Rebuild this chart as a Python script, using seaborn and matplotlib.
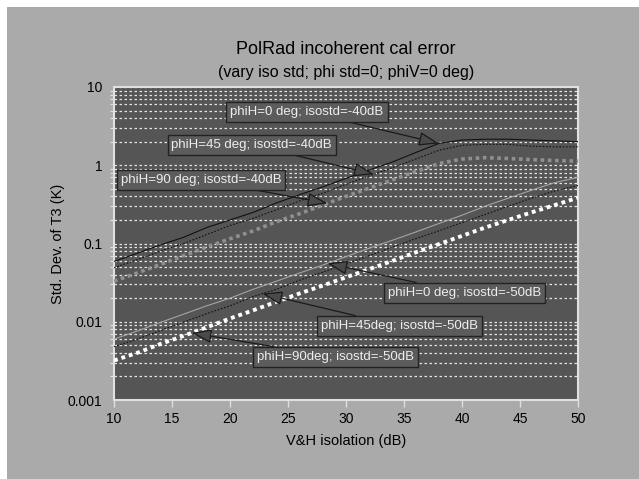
import numpy as np
import pandas as pd
from matplotlib import pyplot as plt
from matplotlib.patches import Rectangle
import seaborn as sns

# isolation (dB)
iso_db = [10, 12, 14, 16, 18, 20, 22, 24, 26, 28, 30, 32, 34, 36, 38, 40, 42, 44, 46, 48, 50]

# std. dev. of T3 (K)
phi0_40 = [0.059, 0.075, 0.096, 0.12, 0.16, 0.20, 0.25, 0.33, 0.42, 0.53, 0.68,
           0.87, 1.1, 1.45, 1.9, 2.1, 2.15, 2.15, 2.1, 2.05, 2.0]
phi45_40 = [0.049, 0.062, 0.080, 0.10, 0.13, 0.17, 0.21, 0.27, 0.35, 0.44, 0.57,
            0.73, 0.93, 1.2, 1.55, 1.8, 1.85, 1.85, 1.75, 1.72, 1.72]
phi90_40 = [0.033, 0.042, 0.054, 0.070, 0.090, 0.115, 0.145, 0.19, 0.24, 0.31, 0.40,
            0.51, 0.65, 0.83, 1.05, 1.2, 1.25, 1.22, 1.18, 1.15, 1.13]
phi0_50 = [0.0060, 0.0076, 0.0098, 0.0125, 0.016, 0.020, 0.026, 0.033, 0.042, 0.053, 0.068,
           0.087, 0.11, 0.14, 0.18, 0.23, 0.30, 0.38, 0.48, 0.60, 0.70]
phi45_50 = [0.0048, 0.0060, 0.0077, 0.0099, 0.0127, 0.016, 0.021, 0.026, 0.034, 0.043, 0.055,
            0.070, 0.090, 0.115, 0.145, 0.185, 0.235, 0.30, 0.38, 0.47, 0.55]
phi90_50 = [0.0032, 0.0040, 0.0052, 0.0066, 0.0085, 0.011, 0.014, 0.018, 0.023, 0.029, 0.037,
            0.047, 0.060, 0.077, 0.098, 0.125, 0.16, 0.20, 0.25, 0.31, 0.385]

labels = ['phiH=0 deg; isostd=-40dB', 'phiH=45 deg; isostd=-40dB', 'phiH=90 deg; isostd=-40dB',
          'phiH=0 deg; isostd=-50dB', 'phiH=45deg; isostd=-50dB', 'phiH=90deg; isostd=-50dB']
series = [phi0_40, phi45_40, phi90_40, phi0_50, phi45_50, phi90_50]

# where each arrow touches its curve (x in dB)
tip_x = [38.0, 32.4, 28.4, 28.4, 22.8, 16.7]
# text box centres (axes fraction)
box_pos = [(0.416, 0.920), (0.297, 0.815), (0.1875, 0.703),
           (0.756, 0.342), (0.616, 0.236), (0.478, 0.137)]

# line looks
line_color = ['#111111', '#111111', '#909090', '#a4a4a4', '#111111', 'white']
line_width = [0.8, 0.8, 2.6, 0.8, 0.8, 2.8]
line_style = ['-', (0, (1.5, 1.5)), (0, (1, 1)), '-', (0, (1.5, 1.5)), (0, (1, 1))]

sns.set_theme(style='dark')
plt.rcParams['font.family'] = ['Liberation Sans', 'DejaVu Sans']

fig = plt.figure(figsize=(6.39, 4.79), dpi=100)
fig.set_facecolor('white')
fig.patches.append(Rectangle((7 / 639, 0), 1, 1 - 7 / 479, transform=fig.transFigure,
                             facecolor='#aaaaaa', edgecolor='none', zorder=-10))
ax = fig.add_axes([114 / 639, 1 - 400 / 479, 464 / 639, 313 / 479])
ax.set_facecolor('#555555')

df = pd.DataFrame({'iso': iso_db})
for i, lab in enumerate(labels):
    df[lab] = series[i]
    sns.lineplot(data=df, x='iso', y=lab, ax=ax, color=line_color[i], linewidth=line_width[i],
                 linestyle=line_style[i], zorder=3)

ax.set_yscale('log')
ax.set_xlim(10, 50)
ax.set_ylim(0.001, 10)
ax.set_xticks(range(10, 51, 5))
ax.set_yticks([0.001, 0.01, 0.1, 1, 10])
ax.set_yticklabels(['0.001', '0.01', '0.1', '1', '10'])
ax.yaxis.set_minor_locator(plt.matplotlib.ticker.LogLocator(base=10, subs=np.arange(2, 10)))
ax.yaxis.set_minor_formatter(plt.NullFormatter())
ax.grid(False)
ax.grid(True, axis='y', which='both', color='#e6e6e6', linestyle=(0, (2, 2)), linewidth=0.9, zorder=1)
ax.set_axisbelow(True)

for s in ax.spines.values():
    s.set_visible(True)
    s.set_color('#e0e0e0')
    s.set_linewidth(1.5)
ax.tick_params(axis='both', which='both', direction='out', color='#e0e0e0', labelcolor='black',
               labelsize=10)
ax.tick_params(axis='both', which='major', length=5, width=1)
ax.tick_params(axis='y', which='minor', length=3, width=0.8, left=True)
ax.tick_params(axis='x', bottom=True)

ax.set_xlabel('V&H isolation (dB)', fontsize=10.5, color='black', labelpad=6)
ax.set_ylabel('Std. Dev. of T3 (K)', fontsize=10.5, color='black', labelpad=2)

fig.text(346 / 639, 1 - 50 / 479, 'PolRad incoherent cal error', ha='center', va='center',
         fontsize=13, color='black')
fig.text(346 / 639, 1 - 73 / 479, '(vary iso std; phi std=0; phiV=0 deg)', ha='center',
         va='center', fontsize=11.5, color='black')

for i, lab in enumerate(labels):
    ty = 10 ** np.interp(tip_x[i], iso_db, np.log10(series[i]))
    ax.annotate(lab, xy=(tip_x[i], ty), xycoords='data', xytext=box_pos[i],
                textcoords='axes fraction', ha='center', va='center', fontsize=9.5,
                color='#eeeeee', zorder=5,
                bbox=dict(boxstyle='square,pad=0.3', facecolor='#5c5c5c', edgecolor='#222222',
                          linewidth=1),
                arrowprops=dict(arrowstyle='-|>,head_length=1.3,head_width=0.45',
                                facecolor='#4a4a4a', edgecolor='#1a1a1a', linewidth=0.9,
                                shrinkA=0, shrinkB=0))

plt.savefig('out.png', dpi=100, facecolor=fig.get_facecolor())
